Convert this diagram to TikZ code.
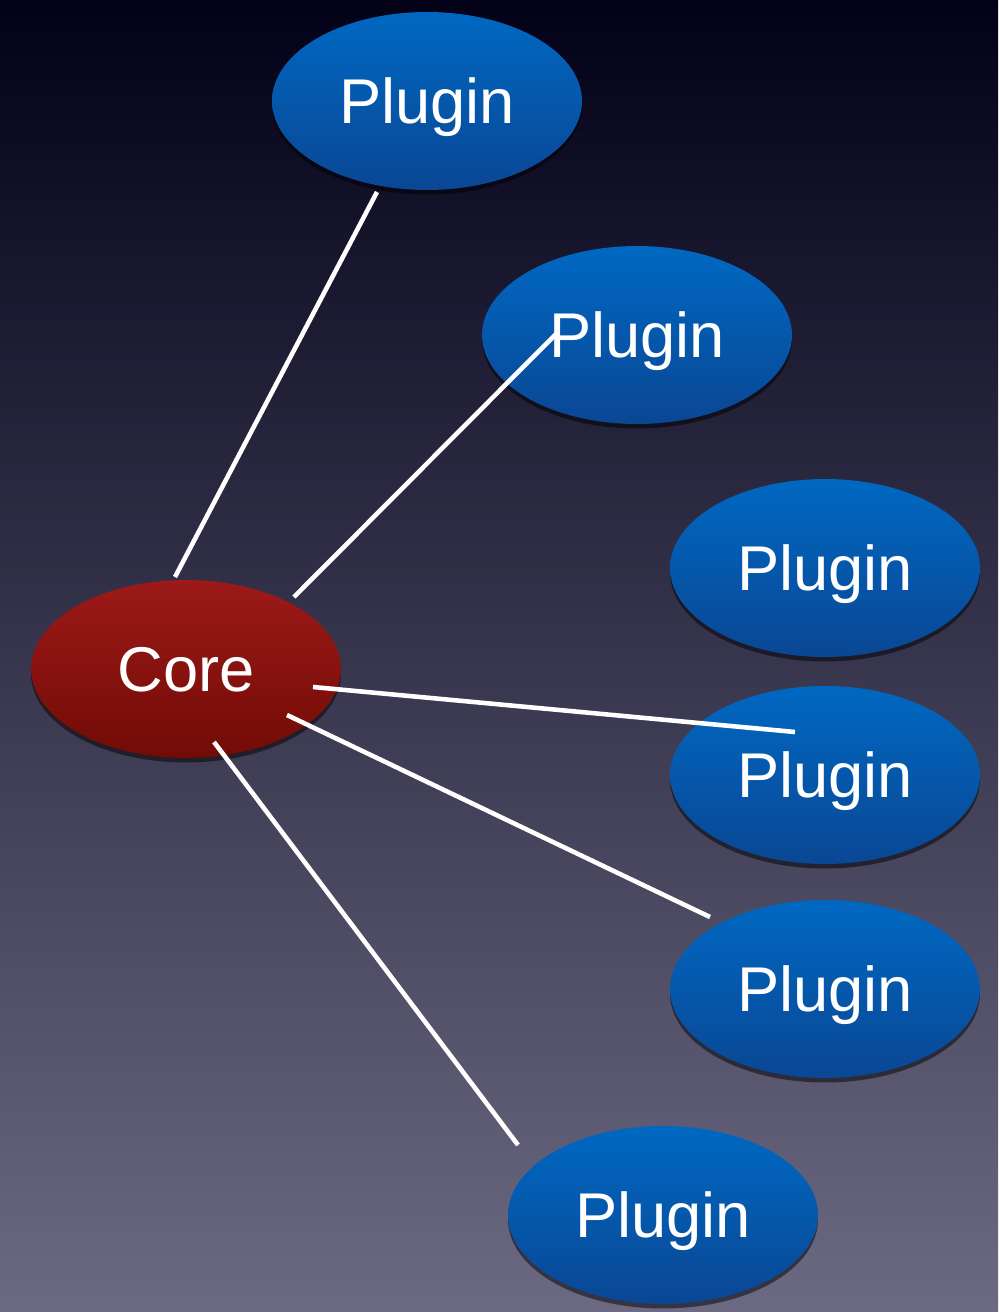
\documentclass[tikz,border=0pt]{standalone}
\usepackage{fontspec}
\setmainfont{Liberation Sans}
\usetikzlibrary{shapes.geometric,shadows,calc}
\definecolor{bgtop}{HTML}{020118}
\definecolor{bgbot}{HTML}{6C6A82}
\definecolor{blutop}{HTML}{0068C2}
\definecolor{blubot}{HTML}{0A4794}
\definecolor{redtop}{HTML}{9C1A18}
\definecolor{redbot}{HTML}{720B06}
\tikzset{
  oval/.style={ellipse, minimum width=6.2cm, minimum height=3.56cm, inner sep=0pt,
    text=white, font=\fontsize{36}{43}\selectfont, text height=25.8pt, text depth=0pt,
    drop shadow={opacity=0.5, fill=black, shadow xshift=0cm, shadow yshift=-0.09cm}},
  plugin/.style={oval, top color=blutop, bottom color=blubot},
  corebox/.style={oval, top color=redtop, bottom color=redbot},
  link/.style={draw=white, line width=2.6pt}
}
\begin{document}
\begin{tikzpicture}[x=0.02cm, y=-0.02cm]
\useasboundingbox (0,0) rectangle (998,1312);
\shade[top color=bgtop, bottom color=bgbot] (0,0) rectangle (998,1312);

\node[plugin] (p1) at (427,101) {Plugin};
\node[plugin] (p2) at (637,335) {Plugin};
\node[plugin] (p3) at (825,568) {Plugin};
\node[plugin] (p4) at (825,775) {Plugin};
\node[plugin] (p5) at (825,989) {Plugin};
\node[plugin] (p6) at (663,1215) {Plugin};
\node[corebox] (core) at (186,669) {Core};

\coordinate (s1) at ([shift={(-11,-92)}]core.center);
\coordinate (e1) at ([shift={(-50,91)}]p1.center);
\coordinate (s2) at ([shift={(108,-72)}]core.center);
\coordinate (e2) at ([shift={(-80,-2)}]p2.center);
\coordinate (s3) at ([shift={(127,18)}]core.center);
\coordinate (e3) at ([shift={(-30,-43)}]p4.center);
\coordinate (s4) at ([shift={(101,46)}]core.center);
\coordinate (e4) at ([shift={(-115,-72)}]p5.center);
\coordinate (s5) at ([shift={(28,73)}]core.center);
\coordinate (e5) at ([shift={(-145,-70)}]p6.center);

\draw[link] (s1) -- (e1);
\draw[link] (s2) -- (e2);
\draw[link] (s3) -- (e3);
\draw[link] (s4) -- (e4);
\draw[link] (s5) -- (e5);
\end{tikzpicture}
\end{document}
